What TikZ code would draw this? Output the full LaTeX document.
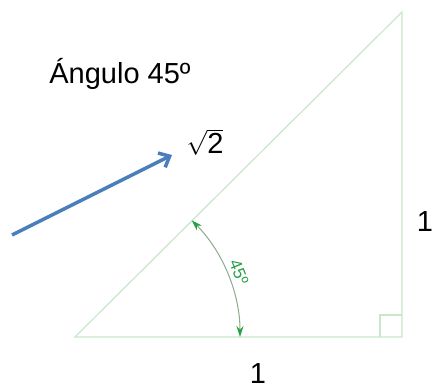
\documentclass[tikz,border=0pt]{standalone}
\usepackage{fontspec}
\setmainfont{Liberation Sans}
\usetikzlibrary{arrows.meta}

\definecolor{ladoverde}{RGB}{200,230,200}
\definecolor{arcogris}{RGB}{140,170,140}
\definecolor{puntaverde}{RGB}{40,160,70}
\definecolor{flechaazul}{RGB}{74,126,187}

\tikzset{
  lado/.style={draw=ladoverde, line width=1.2pt},
  etiqueta/.style={font=\fontsize{29}{31}\selectfont, inner sep=0pt},
}

\begin{document}
\begin{tikzpicture}[x=1pt,y=1pt]
    \useasboundingbox (0,0) rectangle (434,386);
    % triangle
    \coordinate (A) at (75,49);
    \coordinate (B) at (402,49);
    \coordinate (C) at (402,374);
    \draw[lado] (A) -- (B) -- (C) -- cycle;
    \draw[lado] (380,49) -- (380,71) -- (402,71);
    % angle
    \draw[arcogris, line width=1pt,
      {Stealth[length=11pt,width=7pt,color=puntaverde]}-{Stealth[length=11pt,width=7pt,color=puntaverde]}]
      ([shift={(165,0)}]A) arc (0:45:165);
    \node[text=puntaverde, rotate=-68, font=\fontsize{17}{19}\selectfont] (ang) at (239,114) {45º};
    % labels
    \node[etiqueta] (tit) at (120,312) {Ángulo 45º};
    \node[etiqueta] (raiz) at (205,244) {$\sqrt{\mbox{2}}$};
    \node[etiqueta] (ladoC) at (425,164) {1};
    \node[etiqueta] (ladoB) at (258,12) {1};
    % arrow
    \coordinate (cola) at (12,151);
    \draw[flechaazul, line width=3.5pt, -{Straight Barb[length=9pt,width=16pt]}]
      (cola) -- ([shift={(-33,-13)}]raiz.center);
\end{tikzpicture}
\end{document}
